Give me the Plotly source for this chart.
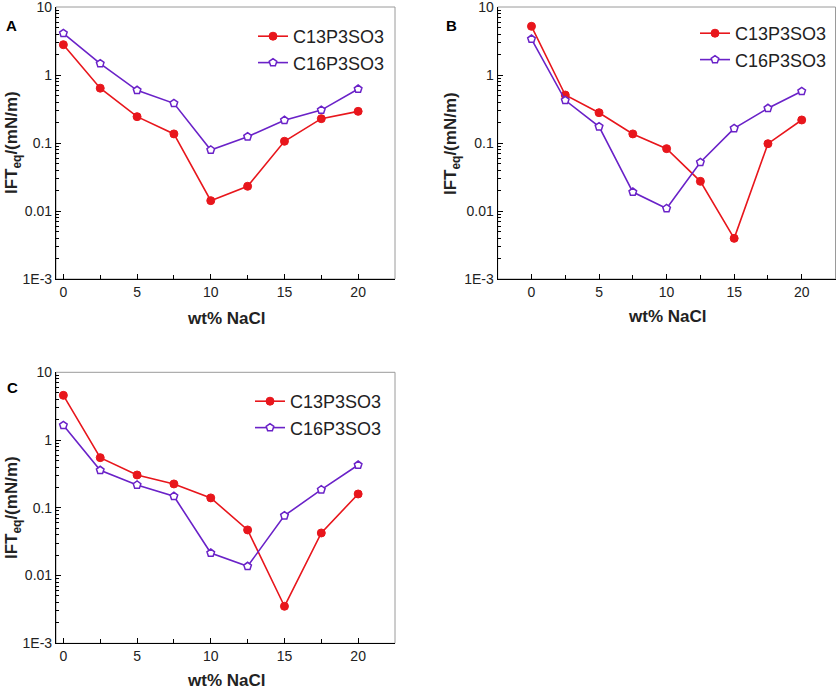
import plotly.graph_objects as go

# ---------------- data ----------------
nacl = [0, 2.5, 5, 7.5, 10, 12.5, 15, 17.5, 20]

a_c13 = [2.79, 0.64, 0.244, 0.136, 0.0142, 0.0231, 0.106, 0.228, 0.292]
a_c16 = [4.1, 1.47, 0.596, 0.383, 0.0789, 0.124, 0.216, 0.305, 0.622]

b_c13 = [5.2, 0.508, 0.279, 0.136, 0.0826, 0.0273, 0.00396, 0.0977, 0.218]
b_c16 = [3.38, 0.424, 0.174, 0.019, 0.0109, 0.052, 0.164, 0.324, 0.575]

c_c13 = [4.57, 0.55, 0.305, 0.225, 0.14, 0.0471, 0.00352, 0.0425, 0.16]
c_c16 = [1.65, 0.358, 0.217, 0.148, 0.0215, 0.0137, 0.0766, 0.185, 0.428]

series_names = ["C13P3SO3", "C16P3SO3"]
panel_letters = ["A", "B", "C"]
y_tickvals = [0.001, 0.01, 0.1, 1, 10]
y_ticktext = ["1E-3", "0.01", "0.1", "1", "10"]
x_tickvals = [0, 5, 10, 15, 20]

# ---------------- style ----------------
W, H = 837, 689
FONT = "Liberation Sans, Arial, Helvetica, sans-serif"
RED = "#e8161c"
PURPLE = "#6a22c8"

def px_x(p):
    return p / W

def px_y(p):
    return 1 - p / H

panels = [
    # (x-left, x-right, y-top, y-bottom) in pixels, x-range
    dict(box=(56, 395, 7, 279), xr=[-0.5, 22.5], data=(a_c13, a_c16)),
    dict(box=(497.7, 835.5, 7, 279), xr=[-2.5, 22.5], data=(b_c13, b_c16)),
    dict(box=(56, 395, 372.3, 643.3), xr=[-0.5, 22.5], data=(c_c13, c_c16)),
]

legend_pos = [(253, 18), (695, 15), (250, 383)]
letter_pos = [(11, 25), (452, 25), (12, 387)]
ytitle_pos = [(13, 143), (452, 143), (13, 508)]
xtitle_pos = [(226, 318), (667, 317), (226, 680)]

minor_y = [m * 10 ** e for e in range(-3, 1) for m in range(2, 10)]

fig = go.Figure()
layout = dict(
    width=W, height=H, autosize=False,
    margin=dict(l=0, r=0, t=0, b=0, pad=0, autoexpand=False),
    paper_bgcolor="white", plot_bgcolor="white",
    font=dict(family=FONT, size=14, color="black"),
    showlegend=True,
    shapes=[], annotations=[],
)

for i, p in enumerate(panels):
    n = "" if i == 0 else str(i + 1)
    xl, xr, yt, yb = p["box"]
    c13, c16 = p["data"]
    leg = "legend" if i == 0 else f"legend{i + 1}"
    fig.add_trace(go.Scatter(
        x=nacl, y=c13, name=series_names[0], mode="lines+markers",
        line=dict(color=RED, width=1.6),
        marker=dict(symbol="circle", size=8, color=RED, line=dict(color=RED, width=1)),
        xaxis="x" + n, yaxis="y" + n, legend=leg,
    ))
    fig.add_trace(go.Scatter(
        x=nacl, y=c16, name=series_names[1], mode="lines+markers",
        line=dict(color=PURPLE, width=1.6),
        marker=dict(symbol="pentagon", size=8, color="white", line=dict(color=PURPLE, width=1.5)),
        xaxis="x" + n, yaxis="y" + n, legend=leg,
    ))
    layout["xaxis" + n] = dict(
        domain=[px_x(xl), px_x(xr)], anchor="y" + n, range=p["xr"], automargin=False,
        tickmode="array", tickvals=x_tickvals, ticks="inside", ticklen=5,
        tickcolor="black", showline=True, linecolor="black", linewidth=1.2,
        showgrid=False, zeroline=False, tickfont=dict(size=14, color="#222"),
        ticklabeloverflow="allow",
        minor=dict(ticks="inside", ticklen=4, dtick=2.5, tick0=0, tickcolor="black", showgrid=False),
    )
    layout["yaxis" + n] = dict(
        domain=[px_y(yb), px_y(yt)], anchor="x" + n, type="log", range=[-3, 1], automargin=False,
        tickmode="array", tickvals=y_tickvals, ticktext=y_ticktext,
        ticks="inside", ticklen=5, tickcolor="black",
        showline=True, linecolor="black", linewidth=1.2,
        showgrid=False, zeroline=False, tickfont=dict(size=14, color="#222"),
        ticklabeloverflow="allow",
        minor=dict(ticks="inside", ticklen=3, tickmode="array", tickvals=minor_y,
                   tickcolor="black", showgrid=False),
    )
    # light frame (top/right)
    layout["shapes"].append(dict(
        type="rect", xref=f"x{n} domain", yref=f"y{n} domain",
        x0=0, x1=1, y0=0, y1=1, line=dict(color="#9a9a9a", width=1), layer="below",
    ))
    lx, ly = legend_pos[i]
    layout[leg] = dict(
        x=px_x(lx), y=px_y(ly), xanchor="left", yanchor="top",
        bgcolor="rgba(0,0,0,0)", borderwidth=0,
        font=dict(family=FONT, size=18, color="#222"), tracegroupgap=0,
    )
    ax, ay = letter_pos[i]
    layout["annotations"].append(dict(
        text=f"<b>{panel_letters[i]}</b>", x=px_x(ax), y=px_y(ay), xref="paper", yref="paper",
        showarrow=False, font=dict(size=15, color="black"), xanchor="center", yanchor="middle",
    ))
    tx, ty = ytitle_pos[i]
    layout["annotations"].append(dict(
        text="<b>IFT<sub>eq</sub>/(mN/m)</b>", x=px_x(tx), y=px_y(ty), xref="paper", yref="paper",
        showarrow=False, textangle=-90, font=dict(size=17, color="#222"),
        xanchor="center", yanchor="middle",
    ))
    tx, ty = xtitle_pos[i]
    layout["annotations"].append(dict(
        text="<b>wt% NaCl</b>", x=px_x(tx), y=px_y(ty), xref="paper", yref="paper",
        showarrow=False, font=dict(size=17, color="#222"),
        xanchor="center", yanchor="middle",
    ))

fig.update_layout(**layout)
fig.write_html(
    "out.html",
    config={"displayModeBar": False},
    post_script="document.body.style.margin='0px';document.body.style.overflow='hidden';",
)
